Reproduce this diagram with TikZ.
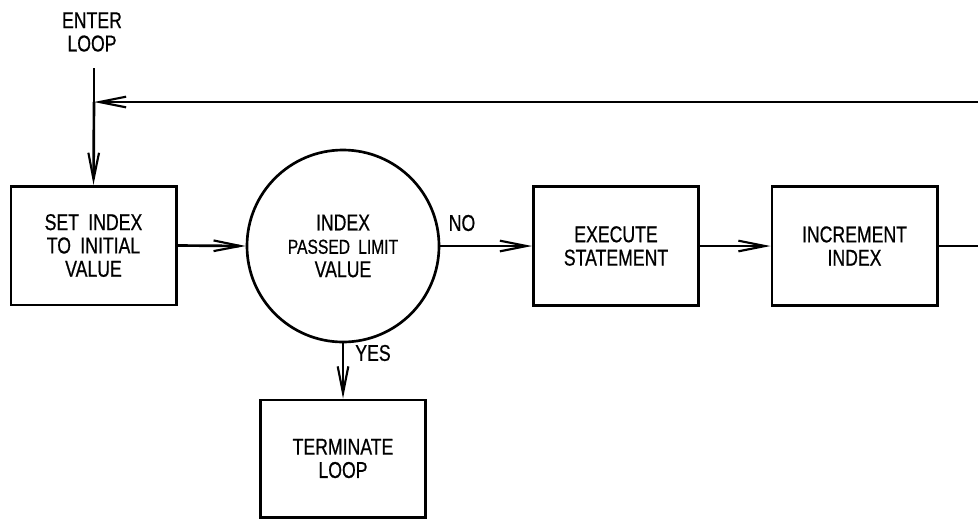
\documentclass[tikz,border=0pt]{standalone}
\usepackage{fontspec}
\setmainfont{Liberation Sans}[FakeStretch=0.77,WordSpace=1.9,FakeBold=0.6]
\usetikzlibrary{arrows.meta,positioning}

\begin{document}
\begin{tikzpicture}[
  x=0.75pt, y=-0.75pt,
  font=\fontsize{17.2}{17.5}\selectfont,
  box/.style  ={draw,rectangle,align=center,line width=2pt,inner sep=1pt},
  blk/.style  ={box,minimum width=124pt,minimum height=89pt},
  test/.style ={draw,circle,align=center,line width=2pt,inner sep=0,minimum size=144pt},
  ln/.style   ={draw,line width=2pt,-{Straight Barb[length=20pt,width=8pt,line width=1.6pt]}},
  wire/.style ={draw,line width=2pt},
  lab/.style  ={inner sep=1pt,align=center},
]
\useasboundingbox (0,0) rectangle (978,519);

% ------------------------------------------------------------ loop entry
\node[lab] (enter) at (92, 32) {ENTER\\LOOP};
\coordinate (start) at (94, 68);
\coordinate (join)  at (94, 102);

% ------------------------------------------------------------ main row
\node[blk] (init) at (93.5, 245.5) {SET INDEX\\TO INITIAL\\VALUE};
\node[test] (limit) at (343, 246)
  {INDEX\\{\fontsize{15.2}{17.5}\selectfont PASSED LIMIT}\\VALUE};
\node[blk] (exec) at (616, 246) {EXECUTE\\STATEMENT};
\node[blk] (incr) at (854.5, 246) {INCREMENT\\INDEX};
\node[blk,minimum height=88pt] (term) at (343, 458.5) {TERMINATE\\LOOP};

% ------------------------------------------------------------ branch labels
\node[lab] (no)  at (462, 223) {NO};
\node[lab] (yes) at (373, 353) {YES};

% ------------------------------------------------------------ connectors
\draw[wire] (start) -- (join);
\draw[ln] (join) -- (init.north);
\draw[ln] (init.east) -- (limit.west);
\draw[ln] (limit.east) -- (exec.west);
\draw[ln] (limit.south) -- (term.north);
\draw[ln] (exec.east) -- (incr.west);
% back edge, closing at the right beyond the frame
\coordinate (back) at (986, 246);
\draw[ln] (incr.east) -- (back) |- (join);

\end{tikzpicture}
\end{document}
